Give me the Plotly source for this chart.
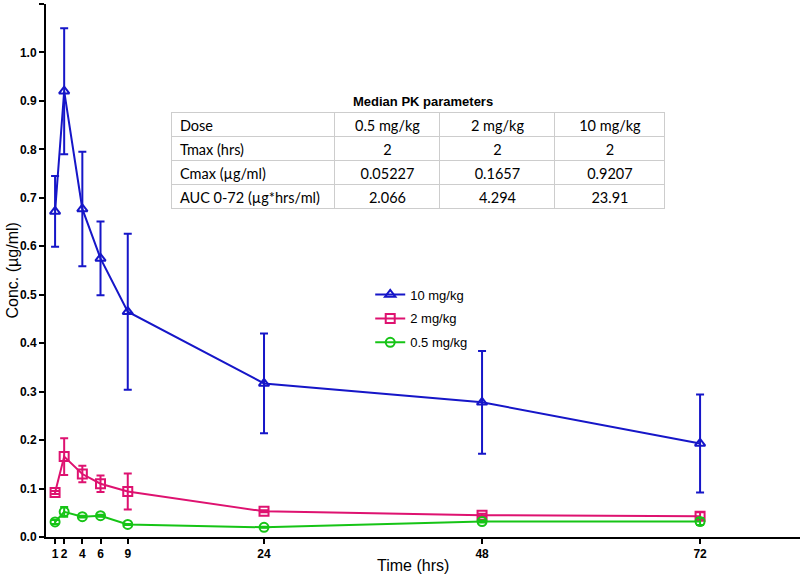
import plotly.graph_objects as go

# ---- data ----
time_hrs = [1, 2, 4, 6, 9, 24, 48, 72]

conc_10 = [0.672, 0.920, 0.677, 0.575, 0.465, 0.317, 0.278, 0.193]
err_10 = [0.073, 0.130, 0.118, 0.076, 0.161, 0.103, 0.106, 0.101]

conc_2 = [0.092, 0.166, 0.130, 0.110, 0.094, 0.053, 0.045, 0.043]
err_2 = [0.003, 0.038, 0.017, 0.017, 0.037, 0.002, 0.003, 0.008]

conc_05 = [0.031, 0.052, 0.042, 0.044, 0.026, 0.020, 0.032, 0.032]
err_05 = [0.004, 0.010, 0.002, 0.002, 0.001, 0.001, 0.002, 0.007]

series_names = ["10 mg/kg", "2 mg/kg", "0.5 mg/kg"]

x_ticks = [1, 2, 4, 6, 9, 24, 48, 72]
y_ticks = [0.0, 0.1, 0.2, 0.3, 0.4, 0.5, 0.6, 0.7, 0.8, 0.9, 1.0, 1.1]

x_title = "Time (hrs)"
y_title = "Conc. (µg/ml)"

table_title = "Median PK parameters"
table_col_param = ["Dose", "Tmax (hrs)", "Cmax (µg/ml)", "AUC 0-72 (µg*hrs/ml)"]
table_col_05 = ["0.5 mg/kg", "2", "0.05227", "2.066"]
table_col_2 = ["2 mg/kg", "2", "0.1657", "4.294"]
table_col_10 = ["10 mg/kg", "2", "0.9207", "23.91"]

# ---- styles ----
BLUE = "rgb(22,22,200)"
PINK = "rgb(222,18,112)"
GREEN = "rgb(22,196,22)"
FONT = "Arial"
TFONT = "Lato"

fig = go.Figure()

specs = [
    (series_names[0], conc_10, err_10, BLUE, "triangle-up-open"),
    (series_names[1], conc_2, err_2, PINK, "square-open"),
    (series_names[2], conc_05, err_05, GREEN, "circle-open"),
]
for i, (name, y, e, col, sym) in enumerate(specs):
    fig.add_trace(go.Scatter(
        x=time_hrs, y=y, name=name, mode="lines+markers",
        line=dict(color=col, width=2),
        marker=dict(symbol=sym, size=9, color=col, line=dict(width=2, color=col)),
        error_y=dict(type="data", array=e, visible=True, color=col,
                     thickness=2, width=4),
        legendgroup=f"g{i}",
    ))

fig.add_trace(go.Table(
    domain=dict(x=[0.167, 0.821], y=[0.606, 0.797]),
    columnwidth=[163, 105, 115, 110],
    header=dict(
        values=[table_col_param[0], table_col_05[0], table_col_2[0], table_col_10[0]],
        height=24,
        align=["left", "center", "center", "center"],
        line=dict(color="rgb(205,205,205)", width=1),
        fill=dict(color="white"),
        font=dict(family=TFONT, size=14.5, color="black"),
    ),
    cells=dict(
        values=[table_col_param[1:], table_col_05[1:], table_col_2[1:], table_col_10[1:]],
        height=24,
        align=["left", "center", "center", "center"],
        line=dict(color="rgb(205,205,205)", width=1),
        fill=dict(color="white"),
        font=dict(family=TFONT, size=14.5, color="black"),
    ),
))

fig.add_annotation(
    text=f"<b>{table_title}</b>", xref="paper", yref="paper",
    x=0.500, y=0.800, xanchor="center", yanchor="bottom", showarrow=False,
    font=dict(family=FONT, size=13, color="black"),
)
fig.add_annotation(
    text=x_title, xref="paper", yref="paper",
    x=0.487, y=0, yshift=-28, xanchor="center", yanchor="middle", showarrow=False,
    font=dict(family=FONT, size=16, color="black"),
)
fig.add_annotation(
    text=y_title, xref="paper", yref="paper", textangle=-90,
    x=0, xshift=-34, y=0.5, xanchor="center", yanchor="middle", showarrow=False,
    font=dict(family=FONT, size=16, color="black"),
)

fig.update_layout(
    width=800, height=574,
    margin=dict(l=46, r=0, t=4, b=37, autoexpand=False),
    paper_bgcolor="white", plot_bgcolor="white",
    font=dict(family=FONT, color="black"),
    showlegend=True,
    legend=dict(
        x=0.43, y=0.483, xanchor="left", yanchor="top",
        bgcolor="rgba(0,0,0,0)", tracegroupgap=4, itemwidth=30,
        font=dict(size=13, family=FONT),
    ),
    xaxis=dict(
        range=[0, 83], tickmode="array", tickvals=x_ticks,
        ticktext=[f"<b>{v}</b>" for v in x_ticks], tickangle=0,
        showline=True, linecolor="black", linewidth=2,
        ticks="outside", ticklen=5, tickwidth=2, tickcolor="black",
        showgrid=False, zeroline=False, automargin=False,
        tickfont=dict(size=12, family=FONT),
    ),
    yaxis=dict(
        range=[0, 1.1], tickmode="array", tickvals=y_ticks,
        ticktext=[f"<b>{v:.1f}</b>" for v in y_ticks],
        showline=True, linecolor="black", linewidth=2,
        ticks="outside", ticklen=5, tickwidth=2, tickcolor="black",
        showgrid=False, zeroline=False, automargin=False,
        tickfont=dict(size=12, family=FONT),
    ),
)

fig.write_html(
    "out.html",
    config={"displayModeBar": False},
    post_script="document.body.style.margin='0';document.body.style.overflow='hidden';",
)
